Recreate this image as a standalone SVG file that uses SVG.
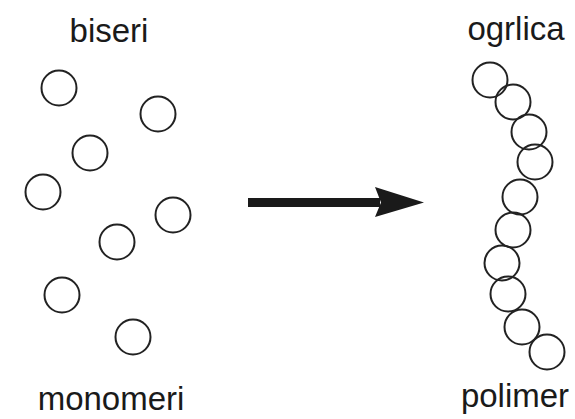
<svg xmlns="http://www.w3.org/2000/svg" width="575" height="419" viewBox="0 0 575 419">
<style>
.b{fill:none;stroke:#222;stroke-width:2}
.t{font-family:"Liberation Sans",Arial,sans-serif;font-size:33px;fill:#1a1a1a;text-anchor:middle}
</style>
<rect width="575" height="419" fill="#fff"/>
<g id="monomers">
<circle class="b" cx="59" cy="88" r="17.5"/>
<circle class="b" cx="158" cy="114" r="17.5"/>
<circle class="b" cx="90" cy="153" r="17.5"/>
<circle class="b" cx="43" cy="192" r="17.5"/>
<circle class="b" cx="173" cy="215" r="17.5"/>
<circle class="b" cx="117" cy="242" r="17.5"/>
<circle class="b" cx="62" cy="295" r="17.5"/>
<circle class="b" cx="133" cy="337" r="17.5"/>
</g>
<g id="polymer">
<circle class="b" cx="490" cy="80" r="17.5"/>
<circle class="b" cx="513" cy="102" r="17.5"/>
<circle class="b" cx="529" cy="132" r="17.5"/>
<circle class="b" cx="535" cy="162" r="17.5"/>
<circle class="b" cx="520" cy="197" r="17.5"/>
<circle class="b" cx="513" cy="230" r="17.5"/>
<circle class="b" cx="502" cy="263" r="17.5"/>
<circle class="b" cx="508" cy="294" r="17.5"/>
<circle class="b" cx="522" cy="327" r="17.5"/>
<circle class="b" cx="547" cy="352" r="17.5"/>
</g>
<g id="connectors">
<rect x="248" y="198" width="132" height="9" fill="#1a1a1a"/>
<path d="M375 187 L424 202.5 L375 217 L381 202.5 Z" fill="#1a1a1a"/>
</g>
<g id="labels">
<text class="t" x="109" y="42">biseri</text>
<text class="t" x="111" y="410">monomeri</text>
<text class="t" x="516" y="40">ogrlica</text>
<text class="t" x="515" y="407">polimer</text>
</g>
</svg>
